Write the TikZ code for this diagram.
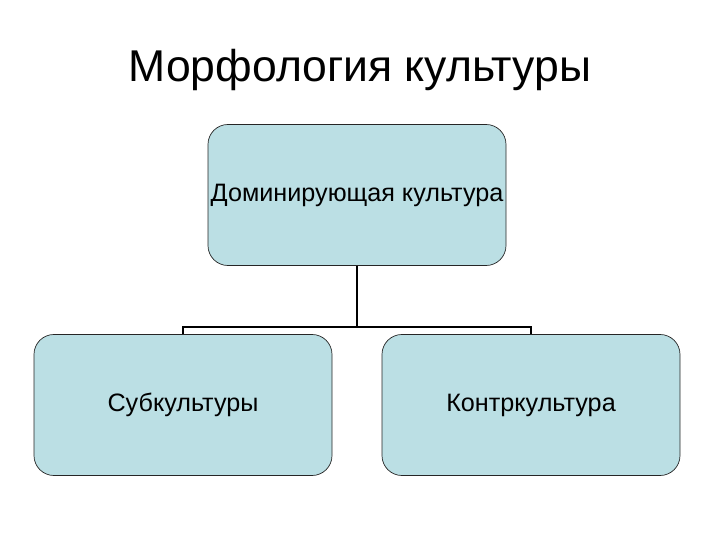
\documentclass[tikz,border=0pt]{standalone}
\usepackage{fontspec}
\setmainfont{Liberation Sans}
\usetikzlibrary{positioning}
\definecolor{boxfill}{RGB}{187,223,228}

\begin{document}
\begin{tikzpicture}[x=0.03cm,y=-0.03cm,
every node/.style={inner sep=0pt},
blok/.style={draw=black!85,line width=0.6pt,fill=boxfill,rounded corners=17pt,
minimum width=298*0.03cm,minimum height=141*0.03cm,text height=2.5ex,text depth=0.5ex,
font=\fontsize{21.5}{26}\selectfont}]
\useasboundingbox (0,0) rectangle (720,540);
\node[font=\fontsize{38}{45}\selectfont] (T) at (360,70) {Морфология культуры};
\node[blok] (D) at (357,195) {Доминирующая культура};
\node[blok] (S) at (183,405) {Субкультуры};
\node[blok] (K) at (531,405) {Контркультура};
\coordinate (bus) at (357,327);
\draw[line width=1.9pt] (D.south)--(bus);
\draw[line width=1.9pt] (S.north)|-(bus)-|(K.north);
\end{tikzpicture}
\end{document}
